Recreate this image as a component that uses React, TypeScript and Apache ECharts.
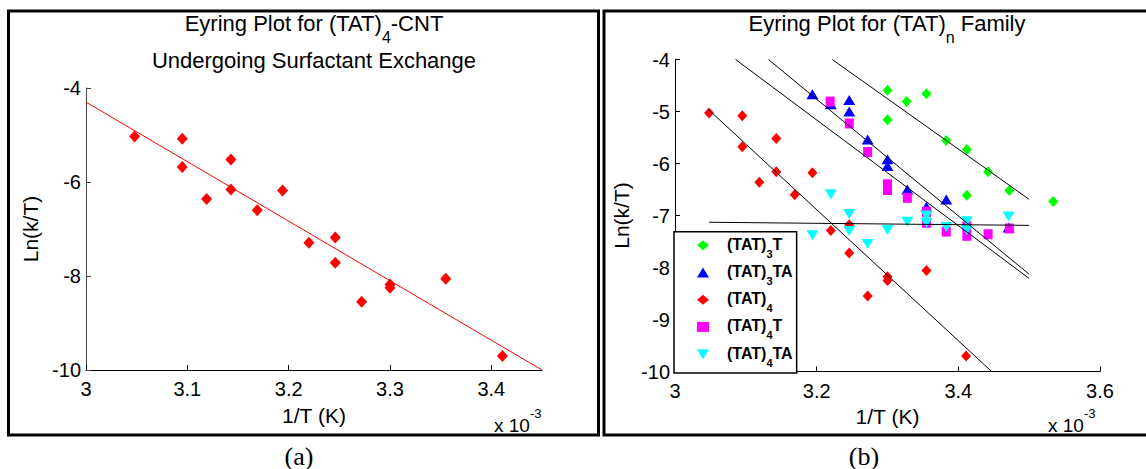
import React, { useEffect, useRef } from 'react';
import * as echarts from 'echarts';

const FONT = '"Liberation Sans", Arial, Helvetica, sans-serif';
const SERIF = '"Liberation Serif", "Times New Roman", serif';

// (TAT)4 — shared by panel (a) and panel (b)
const tat4X = [3.048, 3.095, 3.095, 3.119, 3.143, 3.143, 3.169, 3.194, 3.220, 3.246, 3.246, 3.272, 3.300, 3.300, 3.355, 3.411];
const tat4Y = [-5.03, -5.08, -5.68, -6.36, -5.52, -6.16, -6.60, -6.18, -7.29, -7.18, -7.72, -8.55, -8.18, -8.25, -8.06, -9.70];

// (TAT)3T
const tat3TX = [3.300, 3.327, 3.355, 3.300, 3.383, 3.412, 3.442, 3.472, 3.412, 3.534];
const tat3TY = [-4.59, -4.81, -4.66, -5.16, -5.56, -5.73, -6.16, -6.52, -6.61, -6.73];

// (TAT)3TA
const tat3TAX = [3.194, 3.220, 3.246, 3.246, 3.272, 3.300, 3.300, 3.328, 3.355, 3.383, 3.471];
const tat3TAY = [-4.67, -4.86, -4.78, -5.00, -5.54, -5.92, -6.05, -6.50, -6.83, -6.69, -7.23];

// (TAT)4T
const tat4TX = [3.219, 3.246, 3.272, 3.300, 3.300, 3.328, 3.355, 3.355, 3.383, 3.412, 3.412, 3.442, 3.472];
const tat4TY = [-4.81, -5.23, -5.78, -6.40, -6.51, -6.66, -6.93, -7.14, -7.31, -7.21, -7.39, -7.36, -7.25];

// (TAT)4TA
const tat4TAX = [3.194, 3.220, 3.246, 3.246, 3.272, 3.300, 3.328, 3.355, 3.355, 3.383, 3.412, 3.412, 3.471];
const tat4TAY = [-7.38, -6.59, -6.97, -7.30, -7.55, -7.28, -7.12, -7.00, -7.14, -7.22, -7.11, -7.28, -7.02];

// fitted lines (endpoints in data units)
const fitA = [[3.0, -4.3], [3.45, -10.0]];
const fitTat4 = [[3.047, -4.96], [3.447, -10.0]];
const fitTat3TA = [[3.132, -4.0], [3.5, -8.13]];
const fitTat4T = [[3.0855, -4.0], [3.5, -8.21]];
const fitTat3T = [[3.222, -4.0], [3.5, -6.69]];
const fitTat4TA = [[3.048, -7.13], [3.5, -7.19]];

const xTicksA = { min: 3, max: 3.45, interval: 0.1 };
const xTicksB = { min: 3, max: 3.6, interval: 0.2 };
const yTicksA = { min: -10, max: -4, interval: 2 };
const yTicksB = { min: -10, max: -4, interval: 1 };

const legendNames = ['(TAT)3T', '(TAT)3TA', '(TAT)4', '(TAT)4T', '(TAT)4TA'];

const zip = (xs: number[], ys: number[]) => xs.map((x, i) => [x, ys[i]]);

function axis(color: string, extra: any) {
  return {
    type: 'value',
    axisLine: { show: true, onZero: false, lineStyle: { color, width: 1 } },
    axisTick: { show: true, inside: true, length: 5, lineStyle: { color, width: 1 } },
    splitLine: { show: false },
    nameLocation: 'middle',
    nameTextStyle: { color: '#000', fontSize: 21, fontFamily: FONT },
    ...extra,
  };
}

const fmt = (v: number) => String(parseFloat(v.toFixed(2)));

function lineSeries(name: string, data: number[][], color: string, xi: number) {
  return {
    type: 'line',
    name,
    xAxisIndex: xi,
    yAxisIndex: xi,
    data,
    symbol: 'none',
    silent: true,
    z: 5,
    lineStyle: { color, width: 1 },
  };
}

const titleRich = {
  n: { fontSize: 22, lineHeight: 22, fontFamily: FONT, verticalAlign: 'top', fill: '#000' },
  s: { fontSize: 16, lineHeight: 16, fontFamily: FONT, verticalAlign: 'top', padding: [17, 0, 0, 0], fill: '#000' },
};
const expRich = {
  n: { fontSize: 19, lineHeight: 19, fontFamily: FONT, verticalAlign: 'top', padding: [9, 0, 0, 0], fill: '#000' },
  p: { fontSize: 13, lineHeight: 13, fontFamily: FONT, verticalAlign: 'top', fill: '#000' },
};

export default function App() {
  const ref = useRef<HTMLDivElement>(null);
  useEffect(() => {
    const chart = echarts.init(ref.current!, null, { renderer: 'svg' });
    const option: any = {
      animation: false,
      backgroundColor: '#fff',
      grid: [
        { left: 86, top: 88, width: 456, height: 282 },
        { left: 675, top: 59.5, width: 425, height: 312 },
      ],
      xAxis: [
        axis('#000', {
          gridIndex: 0, ...xTicksA, name: '1/T (K)', nameGap: 35,
          axisLabel: { color: '#000', fontSize: 20, fontFamily: FONT, margin: 9, showMaxLabel: false, formatter: fmt },
        }),
        axis('#000', {
          gridIndex: 1, ...xTicksB, name: '1/T (K)', nameGap: 34,
          axisLabel: { color: '#000', fontSize: 20, fontFamily: FONT, margin: 9, formatter: fmt },
        }),
      ],
      yAxis: [
        axis('#444', {
          gridIndex: 0, ...yTicksA, name: 'Ln(k/T)', nameGap: 45,
          axisLabel: { color: '#000', fontSize: 20, fontFamily: FONT, margin: 5, formatter: fmt },
        }),
        axis('#000', {
          gridIndex: 1, ...yTicksB, name: 'Ln(k/T)', nameGap: 43,
          axisLabel: { color: '#000', fontSize: 20, fontFamily: FONT, margin: 5, formatter: fmt },
        }),
      ],
      legend: {
        data: legendNames.map((name) =>
          name === '(TAT)4TA' ? { name, icon: 'path://M0,0L12,0L6,10Z' } : { name }
        ),
        orient: 'vertical',
        left: 674,
        top: 231.7,
        padding: [4.5, 4, 4.8, 23],
        itemGap: 4.25,
        itemWidth: 12,
        itemHeight: 10,
        symbolKeepAspect: true,
        selectedMode: false,
        backgroundColor: '#fff',
        borderColor: '#000',
        borderWidth: 1.5,
        borderRadius: 0,
        formatter: (name: string) => {
          const m = name.match(/^(\(TAT\))(\d)(.*)$/);
          if (!m) return name;
          return m[3] ? `{f|${m[1]}}{s|${m[2]}}{n|${m[3]}}` : `{f|${m[1]}}{s|${m[2]}}`;
        },
        textStyle: {
          color: '#000',
          fontFamily: FONT,
          fontWeight: 'bold',
          fontSize: 16,
          rich: {
            f: { fontSize: 16, fontWeight: 'bold', lineHeight: 18, verticalAlign: 'top', padding: [0, 0, 0, 13], fontFamily: FONT, color: '#000' },
            n: { fontSize: 16, fontWeight: 'bold', lineHeight: 18, verticalAlign: 'top', fontFamily: FONT, color: '#000' },
            s: { fontSize: 11, fontWeight: 'bold', lineHeight: 11, verticalAlign: 'top', padding: [12, 0, 0, 0], fontFamily: FONT, color: '#000' },
          },
        },
      },
      series: [
        {
          type: 'scatter', name: '(TAT)4-CNT', xAxisIndex: 0, yAxisIndex: 0,
          data: zip(tat4X, tat4Y), symbol: 'diamond', symbolSize: [11, 12],
          itemStyle: { color: '#ff0000', opacity: 1 },
        },
        lineSeries('fit (a)', fitA, '#ff0000', 0),
        {
          type: 'scatter', name: '(TAT)3T', xAxisIndex: 1, yAxisIndex: 1,
          data: zip(tat3TX, tat3TY), symbol: 'diamond', symbolSize: [10, 11],
          itemStyle: { color: '#00ff00', opacity: 1 },
        },
        {
          type: 'scatter', name: '(TAT)3TA', xAxisIndex: 1, yAxisIndex: 1,
          data: zip(tat3TAX, tat3TAY), symbol: 'triangle', symbolSize: [12, 10],
          itemStyle: { color: '#0000ff', opacity: 1 },
        },
        {
          type: 'scatter', name: '(TAT)4', xAxisIndex: 1, yAxisIndex: 1,
          data: zip(tat4X, tat4Y), symbol: 'diamond', symbolSize: [10, 11],
          itemStyle: { color: '#ff0000', opacity: 1 },
        },
        {
          type: 'scatter', name: '(TAT)4T', xAxisIndex: 1, yAxisIndex: 1,
          data: zip(tat4TX, tat4TY), symbol: 'rect', symbolSize: [9, 10],
          itemStyle: { color: '#ff00ff', opacity: 1 },
        },
        {
          type: 'scatter', name: '(TAT)4TA', xAxisIndex: 1, yAxisIndex: 1,
          data: zip(tat4TAX, tat4TAY), symbol: 'triangle', symbolRotate: 180, symbolSize: [12, 10],
          itemStyle: { color: '#00ffff', opacity: 1 },
        },
        lineSeries('fit (TAT)4', fitTat4, '#000', 1),
        lineSeries('fit (TAT)3TA', fitTat3TA, '#000', 1),
        lineSeries('fit (TAT)4T', fitTat4T, '#000', 1),
        lineSeries('fit (TAT)3T', fitTat3T, '#000', 1),
        lineSeries('fit (TAT)4TA', fitTat4TA, '#000', 1),
      ],
      graphic: [
        { type: 'rect', shape: { x: 8.5, y: 11, width: 590, height: 424 }, style: { fill: 'none', stroke: '#000', lineWidth: 3 }, silent: true },
        { type: 'rect', shape: { x: 604, y: 11, width: 560, height: 424 }, style: { fill: 'none', stroke: '#000', lineWidth: 3 }, silent: true },
        { type: 'text', x: 314, y: 12, style: { text: '{n|Eyring Plot for (TAT)}{s|4}{n|-CNT}', align: 'center', verticalAlign: 'top', rich: titleRich } },
        { type: 'text', x: 314, y: 49, style: { text: 'Undergoing Surfactant Exchange', align: 'center', verticalAlign: 'top', fontSize: 22, lineHeight: 22, fontFamily: FONT, fill: '#000' } },
        { type: 'text', x: 887, y: 12, style: { text: '{n|Eyring Plot for (TAT)}{s|n}{n| Family}', align: 'center', verticalAlign: 'top', rich: titleRich } },
        { type: 'text', x: 494, y: 407, style: { text: '{n|x 10}{p|-3}', align: 'left', verticalAlign: 'top', rich: expRich } },
        { type: 'text', x: 1048, y: 407, style: { text: '{n|x 10}{p|-3}', align: 'left', verticalAlign: 'top', rich: expRich } },
        { type: 'text', x: 299, y: 456, style: { text: '(a)', align: 'center', verticalAlign: 'middle', fontSize: 26, fontFamily: SERIF, fill: '#000' } },
        { type: 'text', x: 864, y: 456, style: { text: '(b)', align: 'center', verticalAlign: 'middle', fontSize: 26, fontFamily: SERIF, fill: '#000' } },
      ],
    };
    chart.setOption(option);
    return () => chart.dispose();
  }, []);
  return (
    <div
      ref={ref}
      style={{ position: 'fixed', left: 0, top: 0, width: 1146, height: 469, background: '#fff' }}
    />
  );
}
